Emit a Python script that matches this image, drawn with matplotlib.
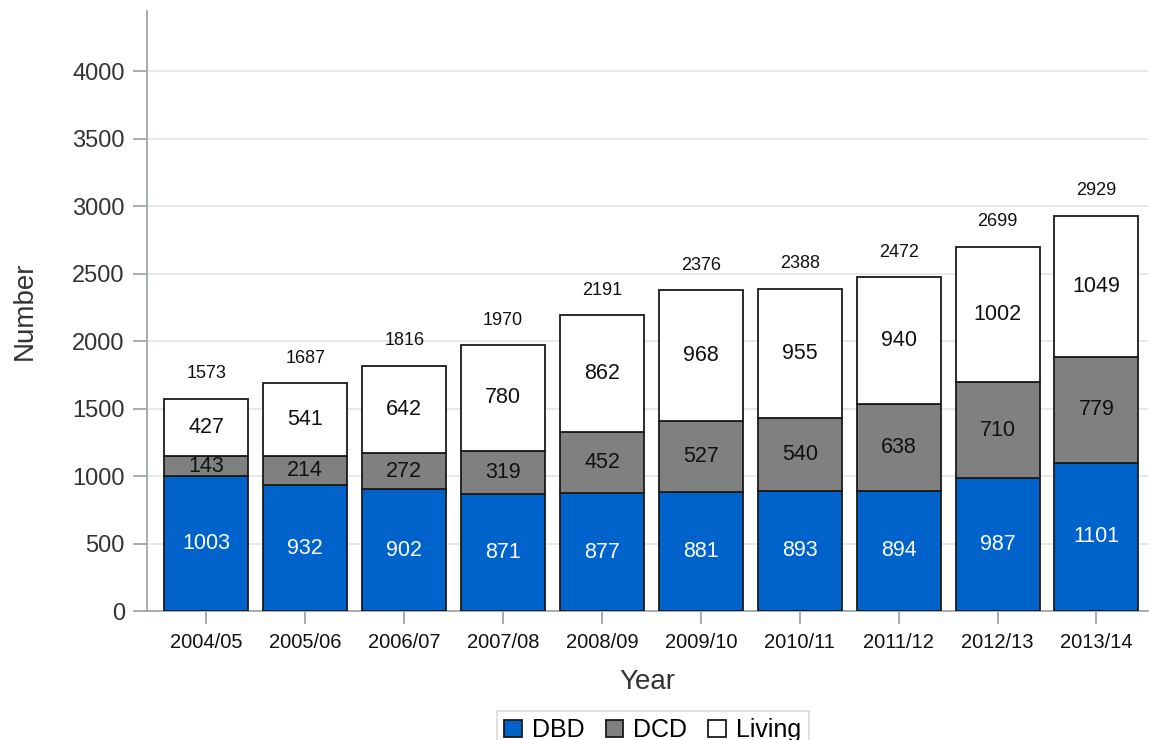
import matplotlib
matplotlib.use("Agg")
import matplotlib.pyplot as plt
import numpy as np

years = ["2004/05", "2005/06", "2006/07", "2007/08", "2008/09",
         "2009/10", "2010/11", "2011/12", "2012/13", "2013/14"]
dbd = [1003, 932, 902, 871, 877, 881, 893, 894, 987, 1101]
dcd = [143, 214, 272, 319, 452, 527, 540, 638, 710, 779]
living = [427, 541, 642, 780, 862, 968, 955, 940, 1002, 1049]
yticks = [0, 500, 1000, 1500, 2000, 2500, 3000, 3500, 4000]

plt.rcParams['font.family'] = ['Liberation Sans', 'DejaVu Sans']

fig = plt.figure(figsize=(11.49, 7.40), dpi=100)
ax = fig.add_axes([0.128, 0.174, 0.871, 0.811])

x = np.arange(len(years))
dbd_a = np.array(dbd)
dcd_a = np.array(dcd)
liv_a = np.array(living)
totals = dbd_a + dcd_a + liv_a
w = 0.85
edge = '#1a1a1a'
b1 = ax.bar(x, dbd_a, w, color='#0063cc', edgecolor=edge, linewidth=1.3, label='DBD', zorder=3)
b2 = ax.bar(x, dcd_a, w, bottom=dbd_a, color='#808080', edgecolor=edge, linewidth=1.3, label='DCD', zorder=3)
b3 = ax.bar(x, liv_a, w, bottom=dbd_a + dcd_a, color='white', edgecolor=edge, linewidth=1.3, label='Living', zorder=3)

fs = 15.5
for i in range(len(x)):
    ax.text(x[i], dbd_a[i] / 2, str(dbd[i]), ha='center', va='center', color='white', fontsize=fs, zorder=4)
    ax.text(x[i], dbd_a[i] + dcd_a[i] / 2, str(dcd[i]), ha='center', va='center', color='#111111', fontsize=fs, zorder=4)
    ax.text(x[i], dbd_a[i] + dcd_a[i] + liv_a[i] / 2, str(living[i]), ha='center', va='center', color='#111111', fontsize=fs, zorder=4)
    ax.annotate(str(totals[i]), (x[i], totals[i]), xytext=(0, 12), textcoords='offset points',
                ha='center', va='bottom', fontsize=13, color='#111111', zorder=4)

ax.set_xlim(-0.6, 9.52)
ax.set_ylim(0, 4444)
ax.set_yticks(yticks)
ax.set_xticks(x)
ax.set_xticklabels(years, fontsize=14.5)
ax.tick_params(axis='y', labelsize=17, colors='#a0a6ab', labelcolor='#333333', length=10, width=1.3, pad=6)
ax.tick_params(axis='x', colors='#a0a6ab', labelcolor='#111111', length=9, width=1.3, pad=7)
ax.grid(axis='y', color='#e4e4e4', linewidth=1.2, zorder=0)
ax.set_axisbelow(True)
for s in ['top', 'right']:
    ax.spines[s].set_visible(False)
for s in ['left', 'bottom']:
    ax.spines[s].set_color('#a0a6ab')
    ax.spines[s].set_linewidth(1.3)

ax.set_xlabel('Year', fontsize=20, color='#333333', labelpad=12)
ax.set_ylabel('Number', fontsize=20, color='#333333', labelpad=25)

leg = fig.legend(handles=[b1, b2, b3], loc='lower center', bbox_to_anchor=(0.568, -0.03), ncol=3,
                 fontsize=18, frameon=True, fancybox=False, edgecolor='#d0d0d0',
                 handlelength=0.7, handleheight=0.7, handletextpad=0.4, columnspacing=0.85,
                 borderpad=0.3)
leg.get_frame().set_linewidth(1.2)

fig.savefig('out.png', dpi=100)
